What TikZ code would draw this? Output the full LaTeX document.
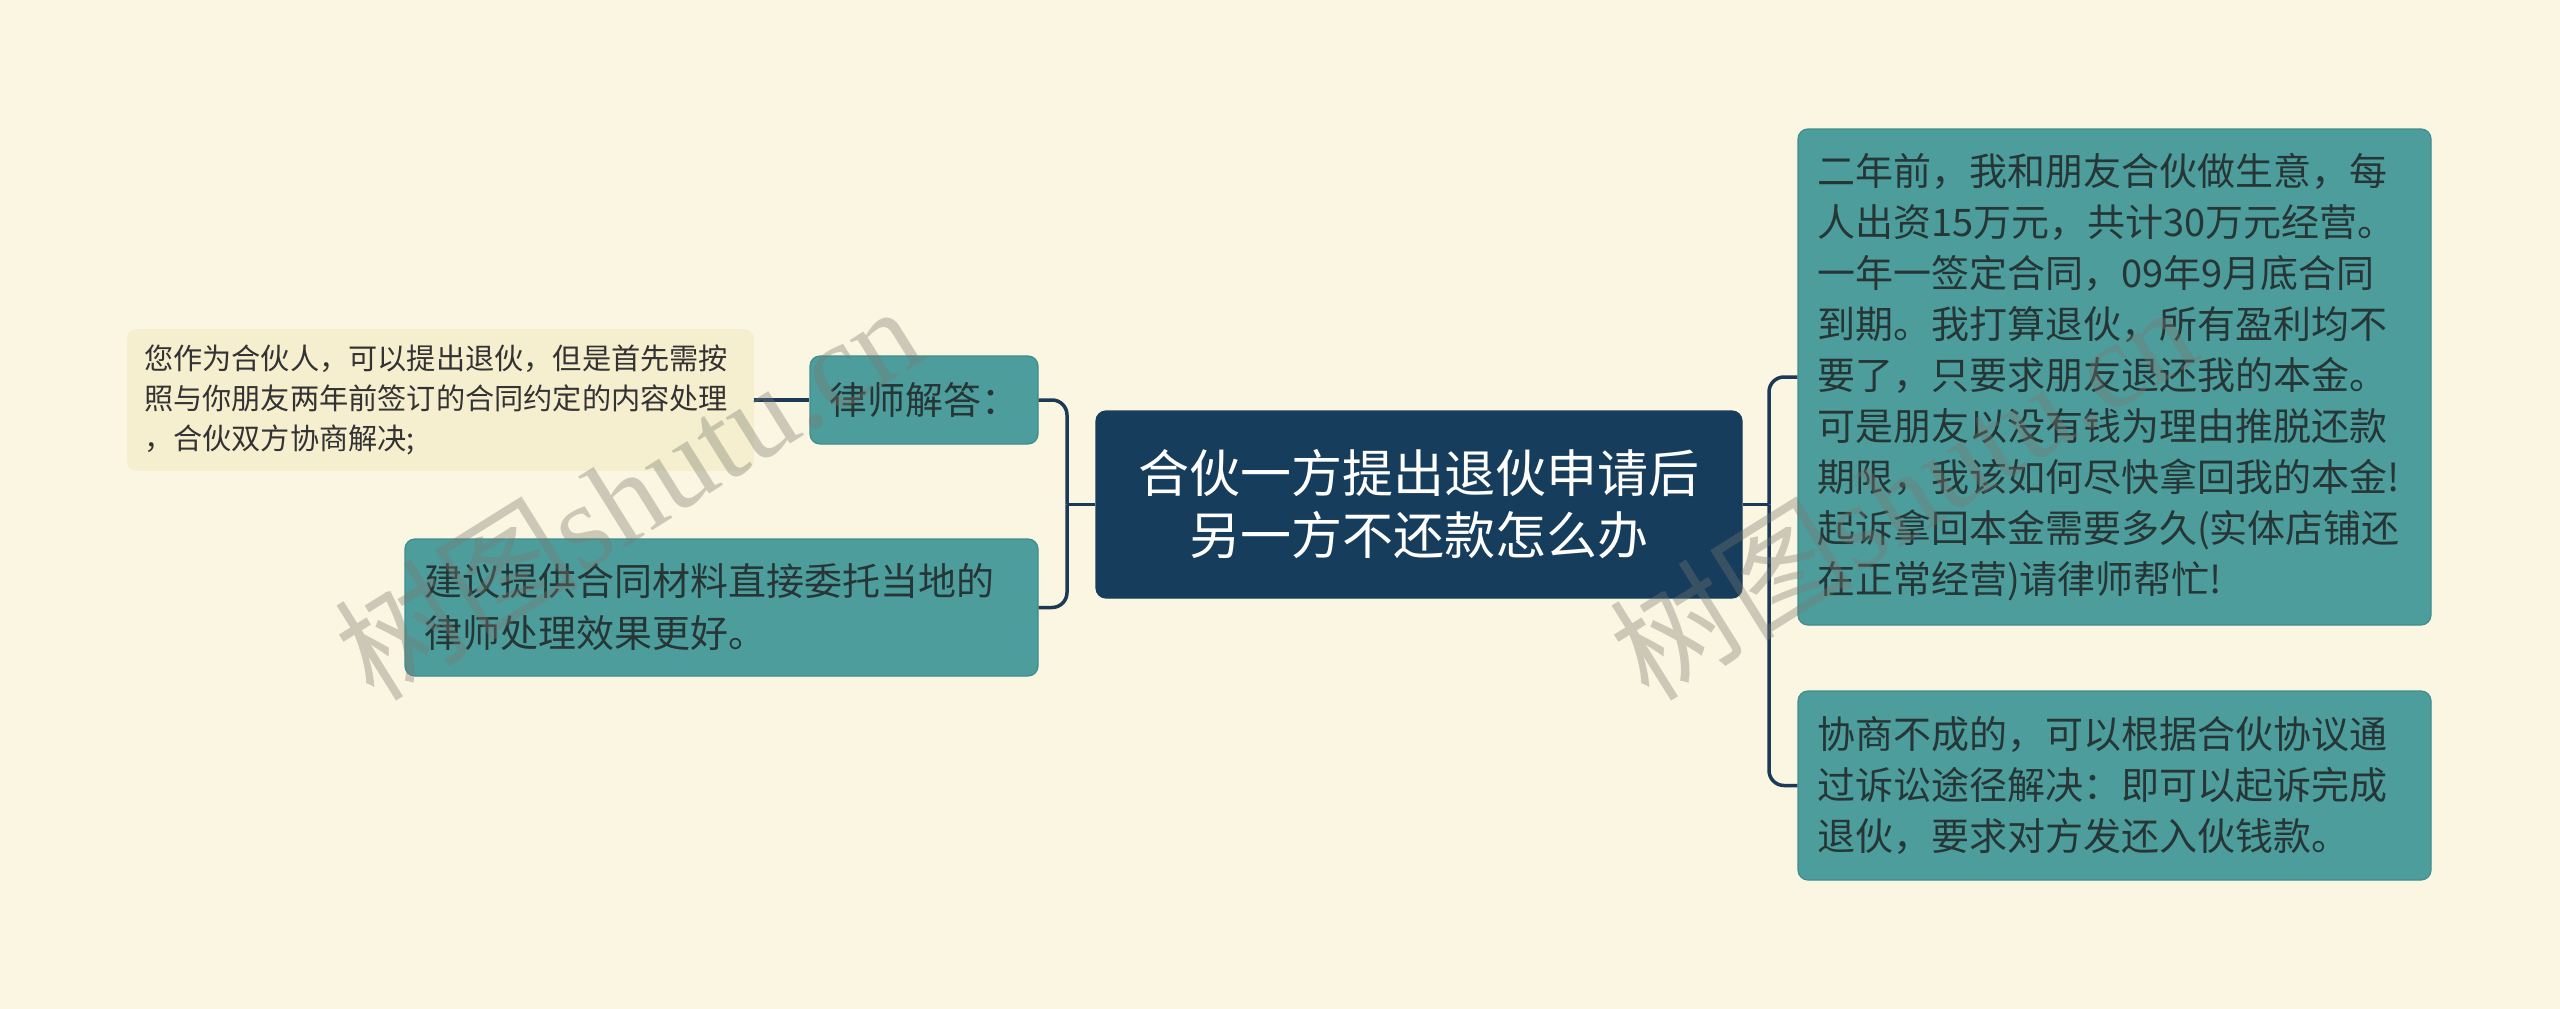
\documentclass[tikz,border=0pt]{standalone}
\usepackage{fontspec}
\newfontfamily\cjk{Noto Sans CJK SC}
\newfontfamily\wmserif{Liberation Serif}
\definecolor{bgcol}{HTML}{FAF6E1}
\definecolor{tealfill}{HTML}{4E9D9D}
\definecolor{tealborder}{HTML}{3F8D8D}
\definecolor{tealtext}{HTML}{263636}
\definecolor{navy}{HTML}{173D5D}
\definecolor{conncol}{HTML}{1B3A57}
\definecolor{yellowfill}{HTML}{F5EFCF}
\definecolor{wmcol}{HTML}{787870}
\tikzset{
  tealbox/.style={draw=tealborder, fill=tealfill, rounded corners=10pt, line width=1.2pt,
    text=tealtext, align=left, inner xsep=19pt, inner ysep=0pt,
    font=\cjk\fontsize{38}{51}\selectfont},
  rootbox/.style={draw=navy, fill=navy, rounded corners=10pt, line width=1.2pt,
    text=white, align=center, inner sep=0pt,
    font=\cjk\fontsize{51}{62}\selectfont},
  notebox/.style={fill=yellowfill, rounded corners=10pt,
    text=black!80, align=left, inner xsep=17pt, inner ysep=0pt,
    font=\cjk\fontsize{29.2}{40}\selectfont},
  conn/.style={draw=conncol, line width=3.5pt, rounded corners=15pt},
  wm/.style={text=wmcol, text opacity=0.36, rotate=32, anchor=south west, inner sep=0pt}
}
\begin{document}
\begin{tikzpicture}[x=1pt,y=-1pt]
\fill[bgcol] (0,0) rectangle (2560,1009);
\useasboundingbox (0,0) rectangle (2560,1009);

\node[rootbox, minimum width=646pt, minimum height=187pt] (root) at (1419,504.5)
  {合伙一方提出退伙申请后\\另一方不还款怎么办};

\node[tealbox, text width=190pt, minimum height=88pt] (lawyer) at (924,400) {律师解答：};

\node[notebox, text width=593pt, minimum height=142pt] (note) at (440.5,400)
  {您作为合伙人，可以提出退伙，但是首先需按\\照与你朋友两年前签订的合同约定的内容处理\\，合伙双方协商解决;};

\node[tealbox, text width=595pt, minimum height=137pt, font=\cjk\fontsize{38}{52}\selectfont] (advice) at (721.5,607.5)
  {建议提供合同材料直接委托当地的\\律师处理效果更好。};

\node[tealbox, text width=595pt, minimum height=496pt] (rtop) at (2114.5,377)
  {二年前，我和朋友合伙做生意，每\\人出资15万元，共计30万元经营。\\一年一签定合同，09年9月底合同\\到期。我打算退伙，所有盈利均不\\要了，只要求朋友退还我的本金。\\可是朋友以没有钱为理由推脱还款\\期限，我该如何尽快拿回我的本金!\\起诉拿回本金需要多久(实体店铺还\\在正常经营)请律师帮忙!};

\node[tealbox, text width=595pt, minimum height=189pt] (rbot) at (2114.5,785.5)
  {协商不成的，可以根据合伙协议通\\过诉讼途径解决：即可以起诉完成\\退伙，要求对方发还入伙钱款。};

\coordinate (lj) at (1067,504.5);
\coordinate (rj) at (1769,504.5);

\draw[conn] (root.west) -- (lj);
\draw[conn] (lj) |- (lawyer.east);
\draw[conn] (lj) |- (advice.east);
\draw[conn] (root.east) -- (rj);
\draw[conn] (rj) |- (rtop.west);
\draw[conn] (rj) |- (rbot.west);
\draw[draw=conncol, line width=3.5pt] (note.east) -- (lawyer.west);

\node[wm] (wm1) at (380,712) {\cjk\fontsize{122}{122}\selectfont 树图\wmserif shutu.cn};
\node[wm] (wm2) at (1655,712) {\cjk\fontsize{122}{122}\selectfont 树图\wmserif shutu.cn};
\end{tikzpicture}
\end{document}
